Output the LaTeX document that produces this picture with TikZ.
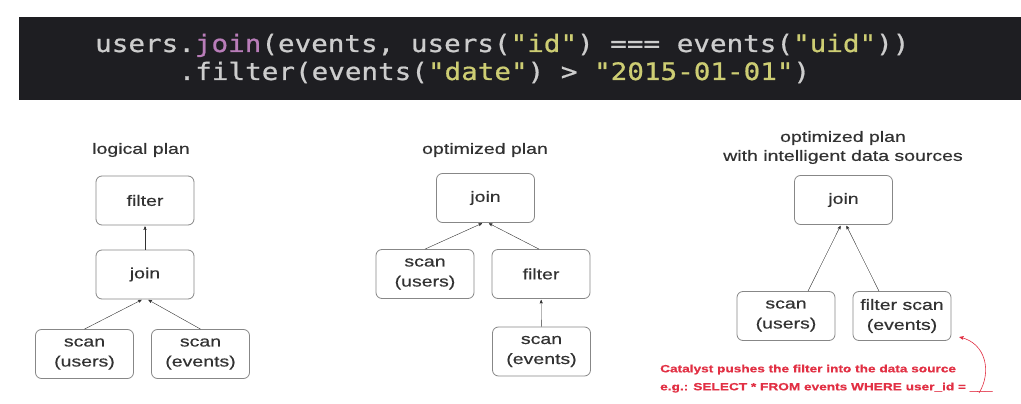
\documentclass[tikz,border=0pt]{standalone}
\usepackage{fontspec}
\usepackage{tikz}
\usetikzlibrary{arrows}

\newfontfamily\planfont[FakeStretch=1.3,FakeBold=0.4]{Liberation Sans}
\newfontfamily\codefont[FakeStretch=1.15,FakeBold=0.8]{DejaVu Sans Mono}

\definecolor{codebg}{RGB}{30,30,34}
\definecolor{codetxt}{RGB}{205,205,205}
\definecolor{codekw}{RGB}{185,125,185}
\definecolor{codestr}{RGB}{205,205,115}
\definecolor{boxline}{RGB}{135,135,135}
\definecolor{plantxt}{RGB}{50,50,50}
\definecolor{planred}{RGB}{226,48,68}

\newcommand{\kw}[1]{\textcolor{codekw}{#1}}
\newcommand{\qs}[1]{\textcolor{codestr}{\char34 #1\char34}}

\begin{document}
\begin{tikzpicture}[x=1pt,y=-1pt,->,>=stealth',shorten >=1pt,
                thin,draw=plantxt,
                main node/.style={rectangle,rounded corners=6pt,draw=boxline,line width=0.8pt,
                  minimum width=98pt,minimum height=49pt,align=center,text=plantxt,
                  font=\planfont\fontsize{15}{20}\selectfont},
                title node/.style={align=center,text=plantxt,font=\planfont\fontsize{15}{19}\selectfont},
                code line/.style={anchor=base west,inner sep=0pt,text=codetxt,
                  font=\codefont\fontsize{24}{28}\selectfont}]

  \useasboundingbox (0,0) rectangle (1021,404);
  \fill[white] (0,0) rectangle (1021,404);

  % code on top
  \fill[codebg] (19,17) rectangle (1021,100);
  \node[code line] (code1) at (95,52)
    {users.\kw{join}(events, users(\qs{id}) === events(\qs{uid}))};
  \node[code line] (code2) at (178.5,80)
    {.filter(events(\qs{date}) > \qs{2015-01-01})};

  % logical plan
  \node[title node] (t1) at (141,150) {logical plan};
  \node[main node] (f1) at (145,200.5) {filter};
  \node[main node] (j1) at (145,274.5) {join};
  \node[main node] (u1) at (84.5,354) {scan\\(users)};
  \node[main node] (e1) at (200.5,354) {scan\\(events)};

  % optimized plan
  \node[title node] (t2) at (485,150) {optimized plan};
  \node[main node] (j2) at (485.5,198) {join};
  \node[main node] (u2) at (425,274) {scan\\(users)};
  \node[main node] (f2) at (541,274) {filter};
  \node[main node] (e2) at (541.5,351.5) {scan\\(events)};

  % optimized plan with data sources
  \node[title node] (t3) at (843,147.5) {optimized plan\\with intelligent data sources};
  \node[main node] (j3) at (843.5,200) {join};
  \node[main node] (u3) at (786,316) {scan\\(users)};
  \node[main node] (fs3) at (902,316) {filter scan\\(events)};

  \node[anchor=north west,align=left,inner sep=0pt,text=planred,
        font=\planfont\bfseries\fontsize{10.5}{18}\selectfont] (note) at (660,364.5)
    {Catalyst pushes the filter into the data source\\
     e.g.: SELECT * FROM events WHERE user\_id = \_\_\_};
  \coordinate (pushend) at (979,393);

  \path
    (j1) edge (f1)
    (u1.north) edge ([xshift=-2.5pt]j1.south)
    (e1.north) edge ([xshift=2.5pt]j1.south)
    (e2) edge (f2)
    (u2.north) edge ([xshift=-2.5pt]j2.south)
    ([xshift=-2pt]f2.north) edge ([xshift=2.5pt]j2.south)
    ([xshift=22pt]u3.north) edge ([xshift=-2.5pt]j3.south)
    ([xshift=-23pt]fs3.north) edge ([xshift=2.5pt]j3.south);

  \draw[planred,line width=0.6pt] (pushend) .. controls (992,372) and (986,343)
    .. ([xshift=7pt,yshift=4pt]fs3.south east);
\end{tikzpicture}
\end{document}
